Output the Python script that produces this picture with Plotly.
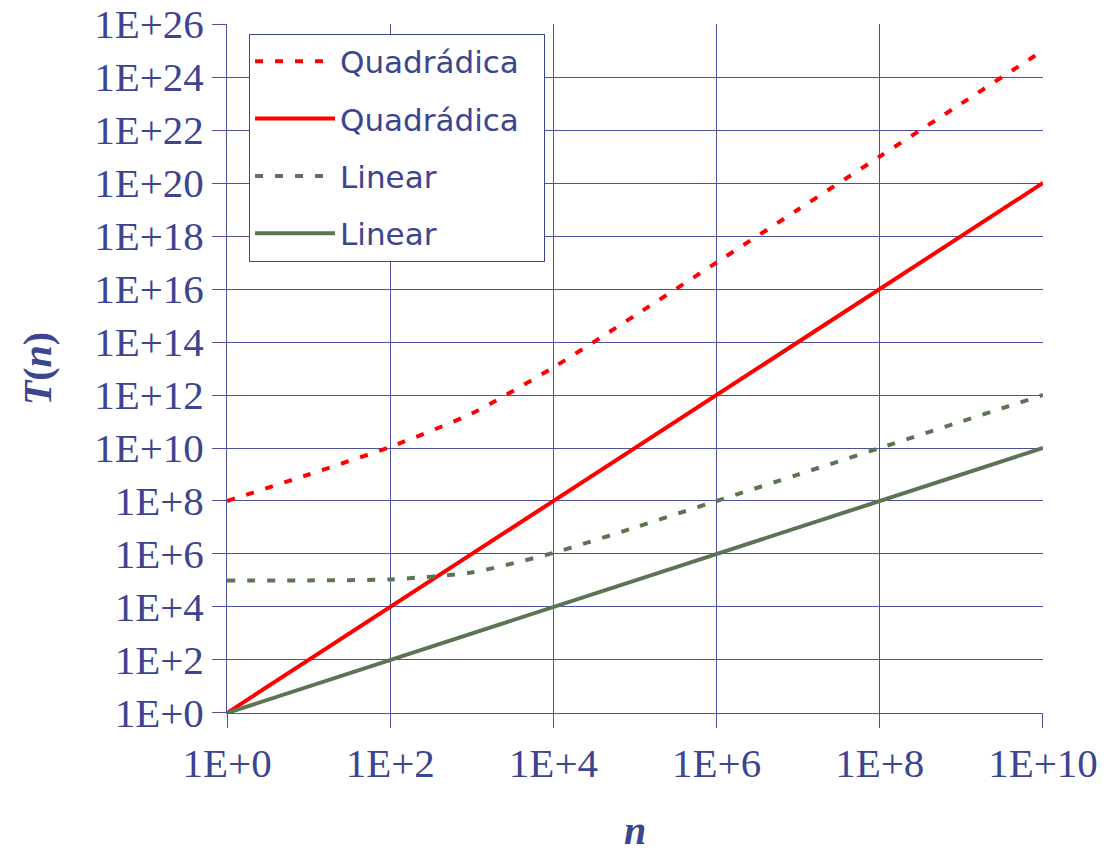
import plotly.graph_objects as go

# Problem sizes n (one point per decade)
n_vals = [1e0, 1e1, 1e2, 1e3, 1e4, 1e5, 1e6, 1e7, 1e8, 1e9, 1e10]

# Running times T(n)
quad_slow = [1.0e8, 1.0e9, 1.1e10, 2.0e11, 1.1e13, 1.0e15, 1.0e17, 1.0e19, 1.0e21, 1.0e23, 1.0e25]
quad_fast = [1e0, 1e2, 1e4, 1e6, 1e8, 1e10, 1e12, 1e14, 1e16, 1e18, 1e20]
lin_slow = [1.0e5, 1.01e5, 1.1e5, 2.0e5, 1.1e6, 1.0e7, 1.0e8, 1.0e9, 1.0e10, 1.0e11, 1.0e12]
lin_fast = [1e0, 1e1, 1e2, 1e3, 1e4, 1e5, 1e6, 1e7, 1e8, 1e9, 1e10]

series_names = ["Quadrádica", "Quadrádica", "Linear", "Linear"]

x_tickvals = [1e0, 1e2, 1e4, 1e6, 1e8, 1e10]
x_ticktext = ["1E+0", "1E+2", "1E+4", "1E+6", "1E+8", "1E+10"]
y_tickvals = [1e0, 1e2, 1e4, 1e6, 1e8, 1e10, 1e12, 1e14, 1e16, 1e18, 1e20, 1e22, 1e24, 1e26]
y_ticktext = ["1E+0", "1E+2", "1E+4", "1E+6", "1E+8", "1E+10", "1E+12", "1E+14",
              "1E+16", "1E+18", "1E+20", "1E+22", "1E+24", "1E+26"]

NAVY = "#3B4590"
GRID = "#4C52A0"
RED = "#FF0000"
GREEN = "#5B7553"
DASH = "8px,12px"

fig = go.Figure()
styles = [
    (quad_slow, RED, DASH),
    (quad_fast, RED, "solid"),
    (lin_slow, GREEN, DASH),
    (lin_fast, GREEN, "solid"),
]
for i, (name, (vals, color, dash)) in enumerate(zip(series_names, styles)):
    fig.add_trace(go.Scatter(
        x=n_vals, y=vals, name=name + "\u00a0\u00a0", mode="lines", legendgroup=f"g{i}",
        line=dict(color=color, width=4, dash=dash,
                  shape="spline" if dash != "solid" else "linear", smoothing=0.6),
    ))

axis_common = dict(
    type="log", automargin=False,
    showgrid=True, gridcolor=GRID, gridwidth=1,
    showline=True, linecolor=GRID, linewidth=1, mirror=False,
    ticks="outside", ticklen=14, tickcolor=GRID, tickwidth=1,
    tickfont=dict(family="Liberation Serif", size=41, color=NAVY),
    ticklabeloverflow="allow",
    zeroline=False,
)

fig.update_layout(
    width=1114, height=853,
    margin=dict(l=227, r=71, t=24, b=140),
    paper_bgcolor="white", plot_bgcolor="white",
    showlegend=True,
    legend=dict(
        x=0.027, y=0.986, xanchor="left", yanchor="top",
        bgcolor="white", bordercolor=NAVY, borderwidth=1,
        font=dict(family="DejaVu Sans", size=31, color=NAVY),
        tracegroupgap=14, itemwidth=80,
    ),
    xaxis=dict(
        **axis_common, range=[-0.0005, 10.0005],
        tickvals=x_tickvals, ticktext=x_ticktext,
        title=dict(text="<b><i>n</i></b>", standoff=34,
                   font=dict(family="Liberation Serif", size=40, color=NAVY)),
    ),
    yaxis=dict(
        **axis_common, range=[-0.0005, 26.0005],
        tickvals=y_tickvals, ticktext=y_ticktext,
        title=dict(text="<b><i>T</i>(<i>n</i>)</b>", standoff=30,
                   font=dict(family="Liberation Serif", size=40, color=NAVY)),
    ),
)

fig.write_html("out.html")
